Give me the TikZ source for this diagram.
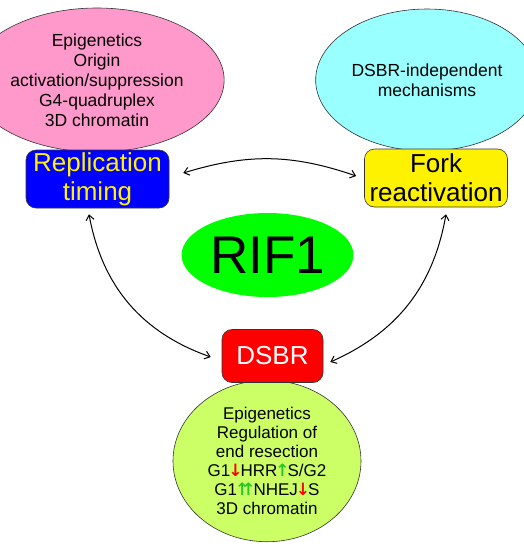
\documentclass[tikz,border=0pt]{standalone}
\usepackage{fontspec}
\setmainfont{Liberation Sans}
\newfontfamily\arrowfont{DejaVu Sans}
\usetikzlibrary{shapes.geometric,arrows.meta}
\definecolor{bubblepink}{RGB}{255,153,204}
\definecolor{bubblecyan}{RGB}{153,255,255}
\definecolor{bubblelime}{RGB}{204,255,102}
\definecolor{arrowgreen}{RGB}{40,200,40}
\newcommand{\dn}{\kern-2pt{\arrowfont\bfseries\textcolor{red}{↓}}\kern-2pt}
\newcommand{\up}{\kern-2pt{\arrowfont\bfseries\textcolor{arrowgreen}{↑}}\kern-2pt}
\begin{document}
\begin{tikzpicture}[x=1pt, y=-1pt,
    bubble/.style={ellipse, draw=black!80, line width=0.6pt, align=center,
        font=\fontsize{17.5}{20}\selectfont},
    topic/.style={rectangle, rounded corners=10pt, draw=black!80, line width=0.6pt,
        minimum width=143pt, minimum height=58pt, inner sep=0pt, align=center,
        font=\fontsize{26}{29}\selectfont},
    link/.style={<->, >={Straight Barb[length=5pt,width=8pt]}, line width=1pt}]
    \useasboundingbox (0,0) rectangle (524,550);
    % outer bubbles
    \node[bubble, fill=bubblepink, minimum width=180pt, minimum height=144pt] (repbubble) at (97,80)
        {Epigenetics\\Origin\\activation/suppression\\G4-quadruplex\\3D chromatin};
    \node[bubble, fill=bubblecyan, minimum width=176pt, minimum height=142pt] (forkbubble) at (427,80)
        {DSBR-independent\\mechanisms};
    \node[bubble, fill=bubblelime, minimum width=188pt, minimum height=158pt,
        font=\fontsize{17}{19}\selectfont] (dsbrbubble) at (267,461)
        {Epigenetics\\Regulation of\\end resection\\G1\dn HRR\up S/G2\\G1\up\kern-4pt\up NHEJ\dn S\\3D chromatin};
    % topic boxes
    \node[topic, fill=blue, text=yellow] (timing) at (97.5,179) {Replication\\timing};
    \node[topic, fill=yellow] (fork) at (436,178) {Fork\\reactivation};
    \node[topic, fill=red, text=white, minimum width=101pt, minimum height=53pt] (dsbr) at (272.5,356) {DSBR};
    % centre
    \node[ellipse, fill=green, minimum width=125pt, minimum height=84pt,
        font=\fontsize{53}{60}\selectfont] (rif) at (267.5,255) {RIF1};
    % links
    \draw[link] ([xshift=14pt,yshift=6pt]timing.east) to[bend left=18] ([xshift=-8pt,yshift=2pt]fork.west);
    \draw[link] ([xshift=-8.5pt,yshift=-6pt]timing.south) to[bend right=30] ([xshift=-11pt,yshift=-1pt]dsbr.west);
    \draw[link] ([xshift=10pt,yshift=-7pt]fork.south) to[bend left=28] ([xshift=7pt,yshift=-6pt]dsbr.east);
\end{tikzpicture}
\end{document}
